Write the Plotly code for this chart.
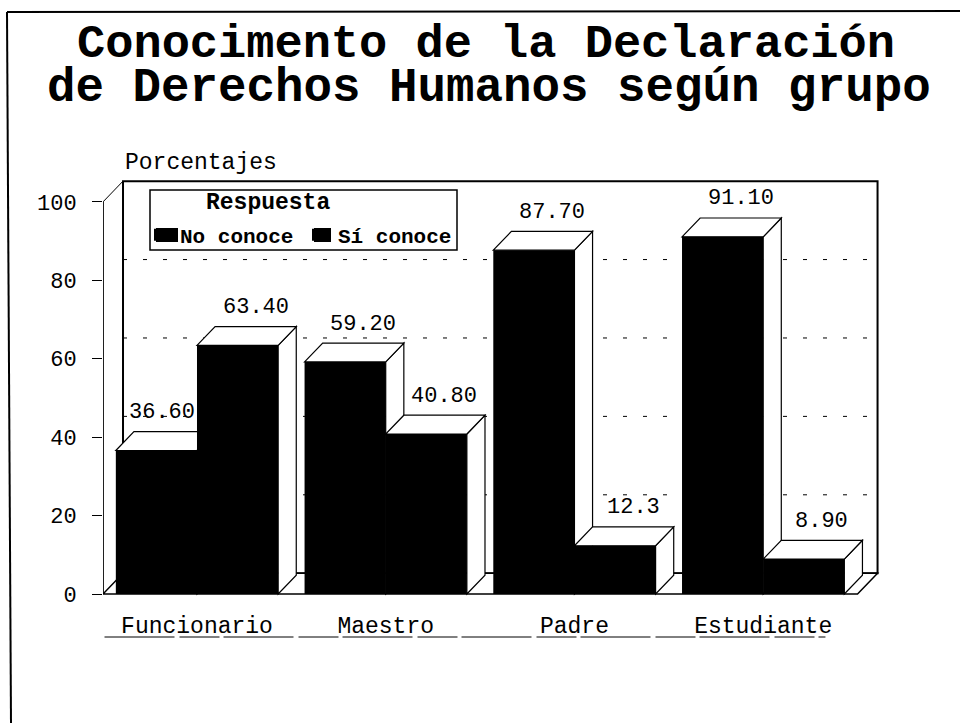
import plotly.graph_objects as go

# --- data ---
categories = ["Funcionario", "Maestro", "Padre", "Estudiante"]
no_conoce = [36.6, 59.2, 87.7, 91.1]
si_conoce = [63.4, 40.8, 12.3, 8.9]
no_labels = ["36.60", "59.20", "87.70", "91.10"]
si_labels = ["63.40", "40.80", "12.3", "8.90"]
y_ticks = [0, 20, 40, 60, 80, 100]
series_names = ["No conoce", "Sí conoce"]
title_lines = ["Conocimento de la Declaración", "de Derechos Humanos según grupo"]
legend_title = "Respuesta"
y_title = "Porcentajes"

# --- geometry / style ---
FONT = "Liberation Mono"
W, H = 960, 723
ML, MR, MT, MB = 103, 80, 178, 125
BAR_W = 0.43
DX, DY = 0.096, 4.8          # bar depth
WALL_DX, WALL_DY = 0.106, 5.3  # wall depth
X_MIN, X_MAX = -0.498, 3.619
Y_MIN, Y_MAX = -1.02, 106.1
FLOOR_R = 3.5                # front-right floor corner
xs = list(range(len(categories)))


def xp(px):
    return (px - ML) / (W - ML - MR)


def yp(py):
    return (H - MB - py) / (H - MT - MB)


def poly(points, fill="white", width=1.2, layer="between"):
    path = "M " + " L ".join(f"{x},{y}" for x, y in points)
    if fill:
        path += " Z"
    return dict(type="path", xref="x", yref="y", path=path, layer=layer,
                fillcolor=fill if fill else "rgba(0,0,0,0)",
                line=dict(color="black", width=width))


shapes = []
# back wall and floor
shapes.append(poly([(X_MIN + WALL_DX, WALL_DY), (X_MIN + WALL_DX, 100 + WALL_DY),
                    (FLOOR_R + WALL_DX, 100 + WALL_DY), (FLOOR_R + WALL_DX, WALL_DY)],
                   fill="white", width=2))
shapes.append(poly([(X_MIN, 0), (X_MIN + WALL_DX, WALL_DY), (FLOOR_R + WALL_DX, WALL_DY),
                    (FLOOR_R, 0)], fill="white", width=1.5))
shapes.append(poly([(X_MIN, 0), (X_MIN, 100), (X_MIN + WALL_DX, 100 + WALL_DY)],
                   fill=None, width=1))
# wall grid lines
for v in y_ticks[1:-1]:
    shapes.append(dict(type="line", xref="x", yref="y", layer="between",
                       x0=X_MIN + WALL_DX, x1=FLOOR_R + WALL_DX, y0=v + WALL_DY, y1=v + WALL_DY,
                       line=dict(color="black", width=1, dash="4px,16px")))
# side and top faces of each bar
for i in xs:
    for left, v in ((i - BAR_W, no_conoce[i]), (i, si_conoce[i])):
        right = left + BAR_W
        shapes.append(poly([(right, 0), (right + DX, DY), (right + DX, v + DY), (right, v)]))
        shapes.append(poly([(left, v), (left + DX, v + DY), (right + DX, v + DY), (right, v)]))
# line under the category labels
shapes.append(dict(type="line", xref="x", yref="paper", x0=-0.49, x1=3.33, y0=yp(637), y1=yp(637),
                   line=dict(color="black", width=1, dash="70px,5px,40px,4px")))
# outer frame
shapes.append(dict(type="line", xref="paper", yref="paper", x0=xp(7), x1=xp(11), y0=yp(12), y1=yp(723),
                   line=dict(color="black", width=2)))
shapes.append(dict(type="line", xref="paper", yref="paper", x0=xp(7), x1=xp(960), y0=yp(12), y1=yp(11),
                   line=dict(color="black", width=2)))
# legend box and larger swatches, seen through the transparent legend
shapes.append(dict(type="rect", xref="paper", yref="paper", x0=xp(150), x1=xp(457), y0=yp(190), y1=yp(250),
                   fillcolor="white", line=dict(color="black", width=1.5), layer="above"))
for px0, px1 in ((156, 178), (314, 331)):
    shapes.append(dict(type="rect", xref="paper", yref="paper", x0=xp(px0), x1=xp(px1),
                       y0=yp(228), y1=yp(242), fillcolor="black", line=dict(width=0), layer="above"))

fig = go.Figure()
fig.add_trace(go.Bar(x=xs, y=no_conoce, name=series_names[0], width=BAR_W, offset=-BAR_W,
                     marker=dict(color="black", line=dict(width=0))))
fig.add_trace(go.Bar(x=xs, y=si_conoce, name=series_names[1], width=BAR_W, offset=0,
                     marker=dict(color="black", line=dict(width=0))))

annotations = []
label_font = dict(family=FONT, size=22, color="black")
for i in xs:
    annotations.append(dict(x=i - BAR_W / 2 + DX, y=no_conoce[i] + DY, text=no_labels[i],
                            xref="x", yref="y", showarrow=False, yanchor="middle", yshift=19,
                            xshift=-13 if i == 0 else 0, font=label_font))
    annotations.append(dict(x=i + BAR_W / 2 + DX, y=si_conoce[i] + DY, text=si_labels[i],
                            xref="x", yref="y", showarrow=False, yanchor="middle", yshift=19,
                            font=label_font))
annotations.append(dict(x=xp(123), y=yp(163), xref="paper", yref="paper", text=y_title, showarrow=False,
                        xanchor="left", yanchor="middle", font=dict(family=FONT, size=23, color="black")))
annotations.append(dict(x=xp(489), y=yp(88), xref="paper", yref="paper", text=title_lines[1], showarrow=False,
                        xanchor="center", yanchor="middle",
                        font=dict(family=FONT, size=47.5, color="black", weight="bold")))
annotations.append(dict(x=xp(268), y=yp(203), xref="paper", yref="paper", text=legend_title, showarrow=False,
                        xanchor="center", yanchor="middle",
                        font=dict(family=FONT, size=23, color="black", weight="bold")))

fig.update_layout(
    width=W, height=H, autosize=False,
    margin=dict(l=ML, r=MR, t=MT, b=MB, pad=0),
    paper_bgcolor="white", plot_bgcolor="white",
    barmode="overlay",
    title=dict(text=title_lines[0], x=486 / W, xref="container", xanchor="center",
               y=1 - 41 / H, yref="container", yanchor="middle",
               font=dict(family=FONT, size=47, color="black", weight="bold")),
    xaxis=dict(range=[X_MIN, X_MAX], tickvals=xs, ticktext=categories, ticks="", showgrid=False,
               showline=False, zeroline=False, ticklabelstandoff=11,
               tickfont=dict(family=FONT, size=23, color="black")),
    yaxis=dict(range=[Y_MIN, Y_MAX], tickvals=y_ticks, ticks="outside", ticklen=10, tickwidth=1.2,
               tickcolor="black", showgrid=False, showline=False, zeroline=False, ticklabelstandoff=11,
               tickfont=dict(family=FONT, size=22, color="black")),
    shapes=shapes + [dict(type="line", xref="x", yref="y", x0=X_MIN, x1=X_MIN, y0=0, y1=100,
                          layer="between", line=dict(color="black", width=1.5))],
    annotations=annotations,
    showlegend=True,
    legend=dict(orientation="h", x=xp(140), y=yp(235), xanchor="left", yanchor="middle",
                borderwidth=0, bgcolor="rgba(255,255,255,0)",
                traceorder="normal", entrywidth=113, entrywidthmode="pixels",
                font=dict(family=FONT, size=21, color="black", weight="bold")),
)

fig.write_html("out.html", config={"displayModeBar": False},
               post_script="document.body.style.margin='0';")
